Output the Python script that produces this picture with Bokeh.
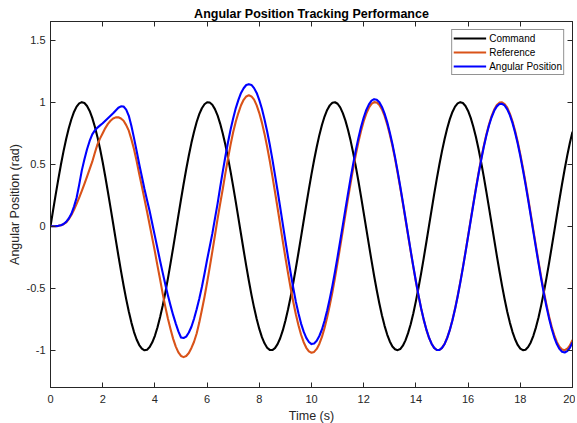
from bokeh.plotting import figure
from bokeh.models import LinearAxis, FixedTicker, Range1d, Legend, LegendItem
from bokeh.embed import file_html
from bokeh.resources import INLINE

time_s = [0.0, 0.1, 0.2, 0.3, 0.4, 0.5, 0.6, 0.7, 0.8, 0.9,
          1.0, 1.1, 1.2, 1.3, 1.4, 1.5, 1.6, 1.7, 1.8, 1.9,
          2.0, 2.1, 2.2, 2.3, 2.4, 2.5, 2.6, 2.7, 2.8, 2.9,
          3.0, 3.1, 3.2, 3.3, 3.4, 3.5, 3.6, 3.7, 3.8, 3.9,
          4.0, 4.1, 4.2, 4.3, 4.4, 4.5, 4.6, 4.7, 4.8, 4.9,
          5.0, 5.1, 5.2, 5.3, 5.4, 5.5, 5.6, 5.7, 5.8, 5.9,
          6.0, 6.1, 6.2, 6.3, 6.4, 6.5, 6.6, 6.7, 6.8, 6.9,
          7.0, 7.1, 7.2, 7.3, 7.4, 7.5, 7.6, 7.7, 7.8, 7.9,
          8.0, 8.1, 8.2, 8.3, 8.4, 8.5, 8.6, 8.7, 8.8, 8.9,
          9.0, 9.1, 9.2, 9.3, 9.4, 9.5, 9.6, 9.7, 9.8, 9.9,
          10.0, 10.1, 10.2, 10.3, 10.4, 10.5, 10.6, 10.7, 10.8, 10.9,
          11.0, 11.1, 11.2, 11.3, 11.4, 11.5, 11.6, 11.7, 11.8, 11.9,
          12.0, 12.1, 12.2, 12.3, 12.4, 12.5, 12.6, 12.7, 12.8, 12.9,
          13.0, 13.1, 13.2, 13.3, 13.4, 13.5, 13.6, 13.7, 13.8, 13.9,
          14.0, 14.1, 14.2, 14.3, 14.4, 14.5, 14.6, 14.7, 14.8, 14.9,
          15.0, 15.1, 15.2, 15.3, 15.4, 15.5, 15.6, 15.7, 15.8, 15.9,
          16.0, 16.1, 16.2, 16.3, 16.4, 16.5, 16.6, 16.7, 16.8, 16.9,
          17.0, 17.1, 17.2, 17.3, 17.4, 17.5, 17.6, 17.7, 17.8, 17.9,
          18.0, 18.1, 18.2, 18.3, 18.4, 18.5, 18.6, 18.7, 18.8, 18.9,
          19.0, 19.1, 19.2, 19.3, 19.4, 19.5, 19.6, 19.7, 19.8, 19.9,
          20.0]

command = [0.000, 0.130, 0.257, 0.380, 0.497, 0.605, 0.703, 0.789, 0.862, 0.921,
           0.964, 0.990, 1.000, 0.993, 0.969, 0.929, 0.873, 0.802, 0.718, 0.622,
           0.516, 0.399, 0.276, 0.150, 0.022, -0.108, -0.236, -0.360, -0.478, -0.588,
           -0.688, -0.777, -0.853, -0.913, -0.958, -0.987, -1.000, -0.995, -0.974, -0.936,
           -0.883, -0.814, -0.732, -0.639, -0.535, -0.420, -0.298, -0.172, -0.043, 0.087,
           0.215, 0.340, 0.459, 0.570, 0.672, 0.762, 0.840, 0.903, 0.951, 0.983,
           0.999, 0.997, 0.979, 0.944, 0.894, 0.827, 0.747, 0.656, 0.553, 0.440,
           0.319, 0.194, 0.065, -0.065, -0.194, -0.320, -0.440, -0.553, -0.656, -0.748,
           -0.828, -0.894, -0.944, -0.979, -0.997, -0.998, -0.983, -0.951, -0.903, -0.840,
           -0.762, -0.672, -0.570, -0.458, -0.339, -0.214, -0.086, 0.044, 0.173, 0.299,
           0.420, 0.534, 0.639, 0.734, 0.816, 0.884, 0.937, 0.974, 0.995, 0.999,
           0.987, 0.958, 0.912, 0.851, 0.776, 0.688, 0.588, 0.478, 0.360, 0.236,
           0.108, -0.022, -0.151, -0.278, -0.401, -0.516, -0.623, -0.719, -0.803, -0.873,
           -0.929, -0.969, -0.992, -0.999, -0.990, -0.963, -0.920, -0.862, -0.790, -0.703,
           -0.604, -0.496, -0.380, -0.257, -0.129, 0.001, 0.130, 0.258, 0.381, 0.497,
           0.605, 0.703, 0.790, 0.863, 0.921, 0.964, 0.990, 1.000, 0.993, 0.969,
           0.929, 0.873, 0.802, 0.719, 0.623, 0.516, 0.400, 0.277, 0.150, 0.021,
           -0.108, -0.237, -0.361, -0.479, -0.589, -0.689, -0.777, -0.851, -0.911, -0.957,
           -0.987, -0.999, -0.995, -0.974, -0.937, -0.883, -0.815, -0.733, -0.638, -0.534,
           -0.420, -0.299, -0.172, -0.043, 0.087, 0.215, 0.340, 0.459, 0.571, 0.672,
           0.762]

reference = [0.000, 0.000, 0.001, 0.003, 0.007, 0.016, 0.030, 0.057, 0.090, 0.132,
             0.180, 0.231, 0.285, 0.342, 0.400, 0.460, 0.520, 0.592, 0.660, 0.708,
             0.750, 0.791, 0.825, 0.850, 0.868, 0.877, 0.878, 0.868, 0.850, 0.815,
             0.770, 0.700, 0.620, 0.525, 0.420, 0.322, 0.220, 0.116, 0.010, -0.098,
             -0.205, -0.320, -0.430, -0.545, -0.650, -0.746, -0.830, -0.908, -0.970, -1.017,
             -1.046, -1.055, -1.046, -1.022, -0.981, -0.931, -0.865, -0.777, -0.676, -0.570,
             -0.454, -0.332, -0.205, -0.075, 0.057, 0.180, 0.300, 0.426, 0.545, 0.658,
             0.760, 0.844, 0.914, 0.975, 1.019, 1.046, 1.055, 1.046, 1.020, 0.974,
             0.912, 0.835, 0.744, 0.641, 0.528, 0.406, 0.278, 0.147, 0.013, -0.121,
             -0.252, -0.378, -0.498, -0.609, -0.710, -0.799, -0.875, -0.935, -0.980, -1.009,
             -1.020, -1.013, -0.989, -0.949, -0.892, -0.820, -0.734, -0.638, -0.532, -0.416,
             -0.292, -0.165, -0.035, 0.096, 0.225, 0.350, 0.469, 0.579, 0.680, 0.770,
             0.846, 0.908, 0.955, 0.986, 1.000, 0.997, 0.978, 0.941, 0.889, 0.821,
             0.740, 0.648, 0.545, 0.431, 0.310, 0.185, 0.056, -0.074, -0.203, -0.328,
             -0.448, -0.560, -0.663, -0.754, -0.833, -0.898, -0.947, -0.981, -0.998, -0.998,
             -0.981, -0.948, -0.899, -0.835, -0.756, -0.665, -0.563, -0.451, -0.332, -0.207,
             -0.078, 0.052, 0.181, 0.307, 0.428, 0.542, 0.646, 0.739, 0.820, 0.888,
             0.940, 0.976, 0.996, 0.999, 0.985, 0.955, 0.908, 0.846, 0.770, 0.681,
             0.581, 0.470, 0.352, 0.227, 0.099, -0.031, -0.160, -0.287, -0.409, -0.524,
             -0.630, -0.726, -0.809, -0.878, -0.933, -0.972, -0.994, -0.999, -0.988, -0.961,
             -0.917]

angular_position = [0.000, 0.000, 0.001, 0.003, 0.008, 0.018, 0.035, 0.062, 0.100, 0.158,
                    0.230, 0.335, 0.450, 0.540, 0.620, 0.687, 0.740, 0.772, 0.795, 0.813,
                    0.830, 0.850, 0.870, 0.890, 0.910, 0.933, 0.955, 0.966, 0.965, 0.940,
                    0.890, 0.808, 0.710, 0.607, 0.500, 0.400, 0.300, 0.210, 0.120, 0.020,
                    -0.080, -0.180, -0.280, -0.376, -0.470, -0.558, -0.640, -0.717, -0.785, -0.848,
                    -0.897, -0.901, -0.890, -0.857, -0.810, -0.746, -0.670, -0.585, -0.490, -0.383,
                    -0.270, -0.166, -0.060, 0.061, 0.180, 0.313, 0.440, 0.562, 0.675, 0.779,
                    0.870, 0.952, 1.018, 1.074, 1.112, 1.138, 1.145, 1.139, 1.113, 1.074,
                    1.016, 0.947, 0.861, 0.766, 0.658, 0.541, 0.414, 0.286, 0.153, 0.017,
                    -0.119, -0.249, -0.375, -0.496, -0.608, -0.702, -0.785, -0.850, -0.900, -0.933,
                    -0.950, -0.945, -0.924, -0.885, -0.832, -0.762, -0.679, -0.585, -0.482, -0.367,
                    -0.245, -0.119, 0.009, 0.138, 0.265, 0.389, 0.506, 0.615, 0.714, 0.802,
                    0.876, 0.937, 0.982, 1.012, 1.024, 1.020, 0.999, 0.961, 0.907, 0.839,
                    0.756, 0.662, 0.557, 0.442, 0.320, 0.194, 0.064, -0.067, -0.197, -0.323,
                    -0.444, -0.557, -0.661, -0.753, -0.832, -0.897, -0.947, -0.981, -0.998, -0.998,
                    -0.981, -0.949, -0.900, -0.836, -0.758, -0.668, -0.566, -0.455, -0.336, -0.211,
                    -0.083, 0.046, 0.175, 0.301, 0.421, 0.534, 0.638, 0.731, 0.812, 0.878,
                    0.930, 0.966, 0.985, 0.987, 0.973, 0.942, 0.895, 0.833, 0.756, 0.667,
                    0.566, 0.455, 0.337, 0.212, 0.084, -0.046, -0.175, -0.302, -0.424, -0.539,
                    -0.645, -0.741, -0.825, -0.895, -0.950, -0.989, -1.012, -1.018, -1.007, -0.980,
                    -0.937]

series_names = ["Command", "Reference", "Angular Position"]
series_colors = ["#000000", "#D95319", "#0000FF"]

x_ticks = [0, 2, 4, 6, 8, 10, 12, 14, 16, 18, 20]
x_tick_labels = ["0", "2", "4", "6", "8", "10", "12", "14", "16", "18", "20"]
y_ticks = [-1, -0.5, 0, 0.5, 1, 1.5]
y_tick_labels = ["-1", "-0.5", "0", "0.5", "1", "1.5"]

FONT = "Liberation Sans"
AX = "#262626"

p = figure(frame_width=522, frame_height=366, output_backend="svg", toolbar_location=None,
           x_range=Range1d(0, 20), y_range=Range1d(-1.3, 1.65),
           title="Angular Position Tracking Performance",
           min_border_left=50, min_border_right=3, min_border_top=21, min_border_bottom=20)
p.background_fill_color = "white"
p.border_fill_color = "white"
p.outline_line_color = AX
p.xgrid.visible = False
p.ygrid.visible = False

p.title.text_font = FONT
p.title.text_font_size = "12.5px"
p.title.text_font_style = "bold"
p.title.text_color = "black"
p.title.align = "center"
p.title.standoff = 2

renderers = []
for ys, c in zip([command, reference, angular_position], series_colors):
    r = p.line(time_s, ys, line_color=c, line_width=2.1, line_join="round")
    renderers.append(r)

def style_axis(ax, labels=True):
    ax.axis_line_color = AX
    ax.major_tick_line_color = AX
    ax.major_tick_in = 5
    ax.major_tick_out = 0
    ax.minor_tick_line_color = None
    ax.major_label_text_font = FONT
    ax.major_label_text_color = AX
    ax.major_label_text_font_size = "11px"
    ax.major_label_text_line_height = 1.0
    ax.axis_label_text_font = FONT
    ax.axis_label_text_font_style = "normal"
    ax.axis_label_text_color = AX
    ax.axis_label_text_font_size = "12.5px"
    ax.axis_label_text_line_height = 1.0
    if not labels:
        ax.major_label_text_font_size = "0px"
        ax.major_label_standoff = 0
        ax.axis_label_standoff = 0

xax = p.xaxis[0]
xax.ticker = FixedTicker(ticks=x_ticks)
xax.major_label_overrides = dict(zip(x_ticks, x_tick_labels))
xax.axis_label = "Time (s)"
style_axis(xax)
xax.major_label_standoff = 7
xax.axis_label_standoff = 3

yax = p.yaxis[0]
yax.ticker = FixedTicker(ticks=y_ticks)
yax.major_label_overrides = dict(zip(y_ticks, y_tick_labels))
yax.axis_label = "Angular Position (rad)"
style_axis(yax)
yax.major_label_standoff = 5
yax.axis_label_standoff = 2

top_ax = LinearAxis(ticker=FixedTicker(ticks=x_ticks))
style_axis(top_ax, labels=False)
p.add_layout(top_ax, "above")
right_ax = LinearAxis(ticker=FixedTicker(ticks=y_ticks))
style_axis(right_ax, labels=False)
p.add_layout(right_ax, "right")

legend = Legend(items=[LegendItem(label=n, renderers=[r]) for n, r in zip(series_names, renderers)],
                location="top_right", margin=8, padding=1, spacing=0,
                label_height=14, glyph_height=14, glyph_width=33, label_standoff=3,
                label_text_font=FONT, label_text_font_size="10px", label_text_color="black",
                border_line_color=AX, border_line_width=1, background_fill_alpha=1.0)
p.add_layout(legend)

open("out.html", "w").write(file_html(p, INLINE))
